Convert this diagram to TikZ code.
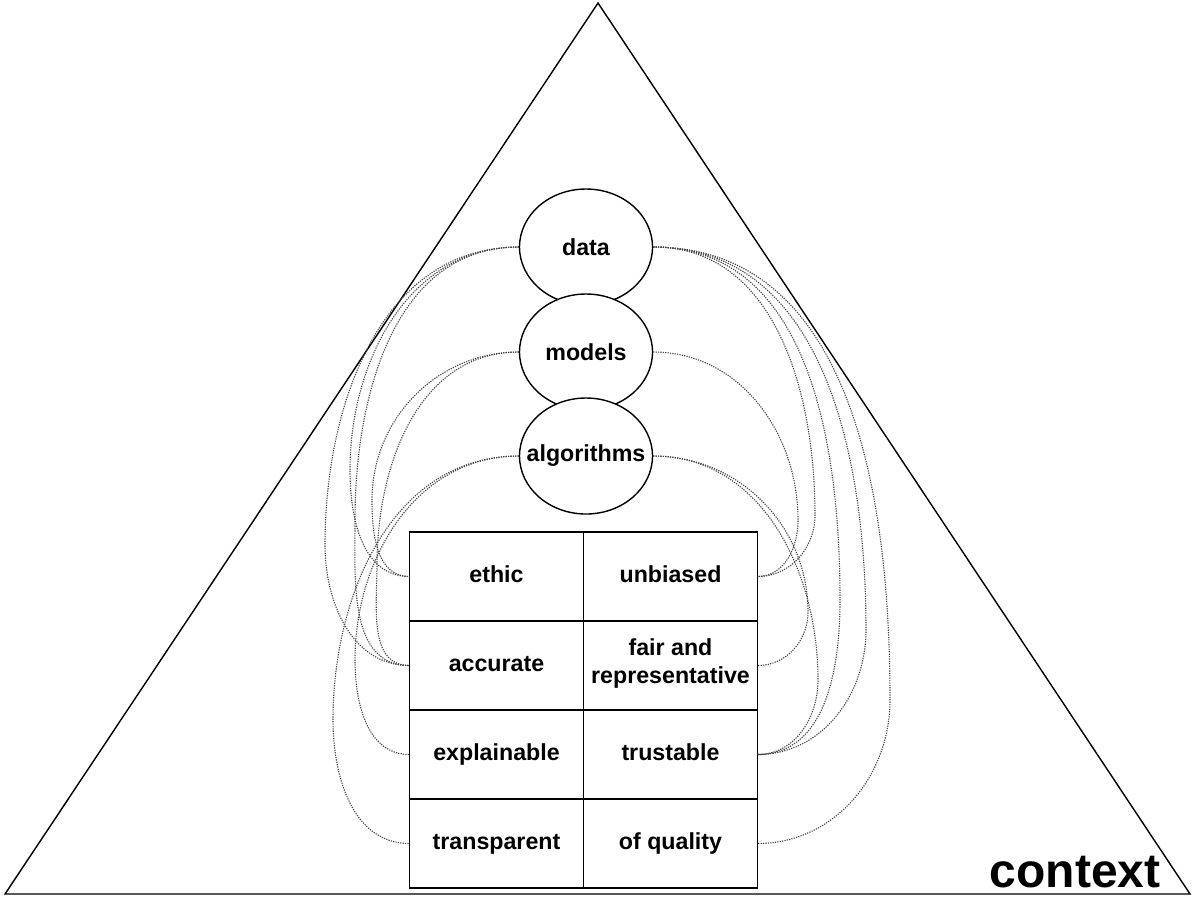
\documentclass[tikz,border=0pt]{standalone}
\usepackage{fontspec}
\setmainfont{Liberation Sans}
\usetikzlibrary{shapes.geometric}

\begin{document}
\begin{tikzpicture}[x=0.5pt, y=-0.5pt,
    blob/.style={ellipse, draw, fill=white, line width=0.7pt, inner sep=0pt,
      minimum width=66.5pt, minimum height=58pt, font=\fontsize{11.6}{14}\selectfont\bfseries},
    cell/.style={rectangle, draw, line width=0.7pt, inner sep=0pt, outer sep=0pt, align=center,
      minimum width=87pt, minimum height=44.5pt, font=\fontsize{11.6}{14}\selectfont\bfseries,
      execute at begin node=\strut},
    link/.style={draw=black!75, line width=0.55pt, dash pattern=on 0.6pt off 0.6pt}]
        \useasboundingbox (0,0) rectangle (1192,896);

        % the context triangle
        \draw[line width=0.7pt, line join=miter] (5,894) -- (598,3) -- (1190,894) -- cycle;
        \node[anchor=base east, inner sep=0pt, font=\fontsize{24}{28}\selectfont\bfseries]
          (context) at (1161,887) {context};

        % stacked ellipses, later ones hide the lower edge of the one above
        \node[blob] (data) at (586,247) {\makebox[0pt]{data}};
        \node[blob] (models) at (586,352) {\makebox[0pt]{models}};
        \node[blob] (algorithms) at (586,456) {\makebox[0pt]{algorithms}};

        % table of qualities
        \node[cell] (ethic) at (496.5,576.5) {ethic};
        \node[cell] (unbiased) at (670.5,576.5) {unbiased};
        \node[cell] (accurate) at (496.5,665.5) {accurate};
        \node[cell] (fair) at (670.5,665.5) {fair and\\representative};
        \node[cell] (explainable) at (496.5,754.5) {explainable};
        \node[cell] (trustable) at (670.5,754.5) {trustable};
        \node[cell] (transparent) at (496.5,843.5) {transparent};
        \node[cell] (quality) at (670.5,843.5) {of quality};

        % dotted links, bent round a turning point on either side
        \foreach \a/\b/\wx/\wy in {data/ethic/350/470, data/accurate/325/545,
            data/accurate/355/520, models/ethic/372/500, models/accurate/377/565,
            algorithms/explainable/355/660, algorithms/transparent/333/720} {
          \draw[link] (\a.west) to[out=180, in=90] (\wx,\wy) to[out=-90, in=180] (\b.west);
        }
        \foreach \a/\b/\wx/\wy in {models/unbiased/798/520, data/unbiased/815/515,
            data/trustable/840/600, data/trustable/866/630, data/quality/890/700,
            algorithms/fair/808/612, algorithms/trustable/818/680} {
          \draw[link] (\a.east) to[out=0, in=90] (\wx,\wy) to[out=-90, in=0] (\b.east);
        }
      \end{tikzpicture}
\end{document}
